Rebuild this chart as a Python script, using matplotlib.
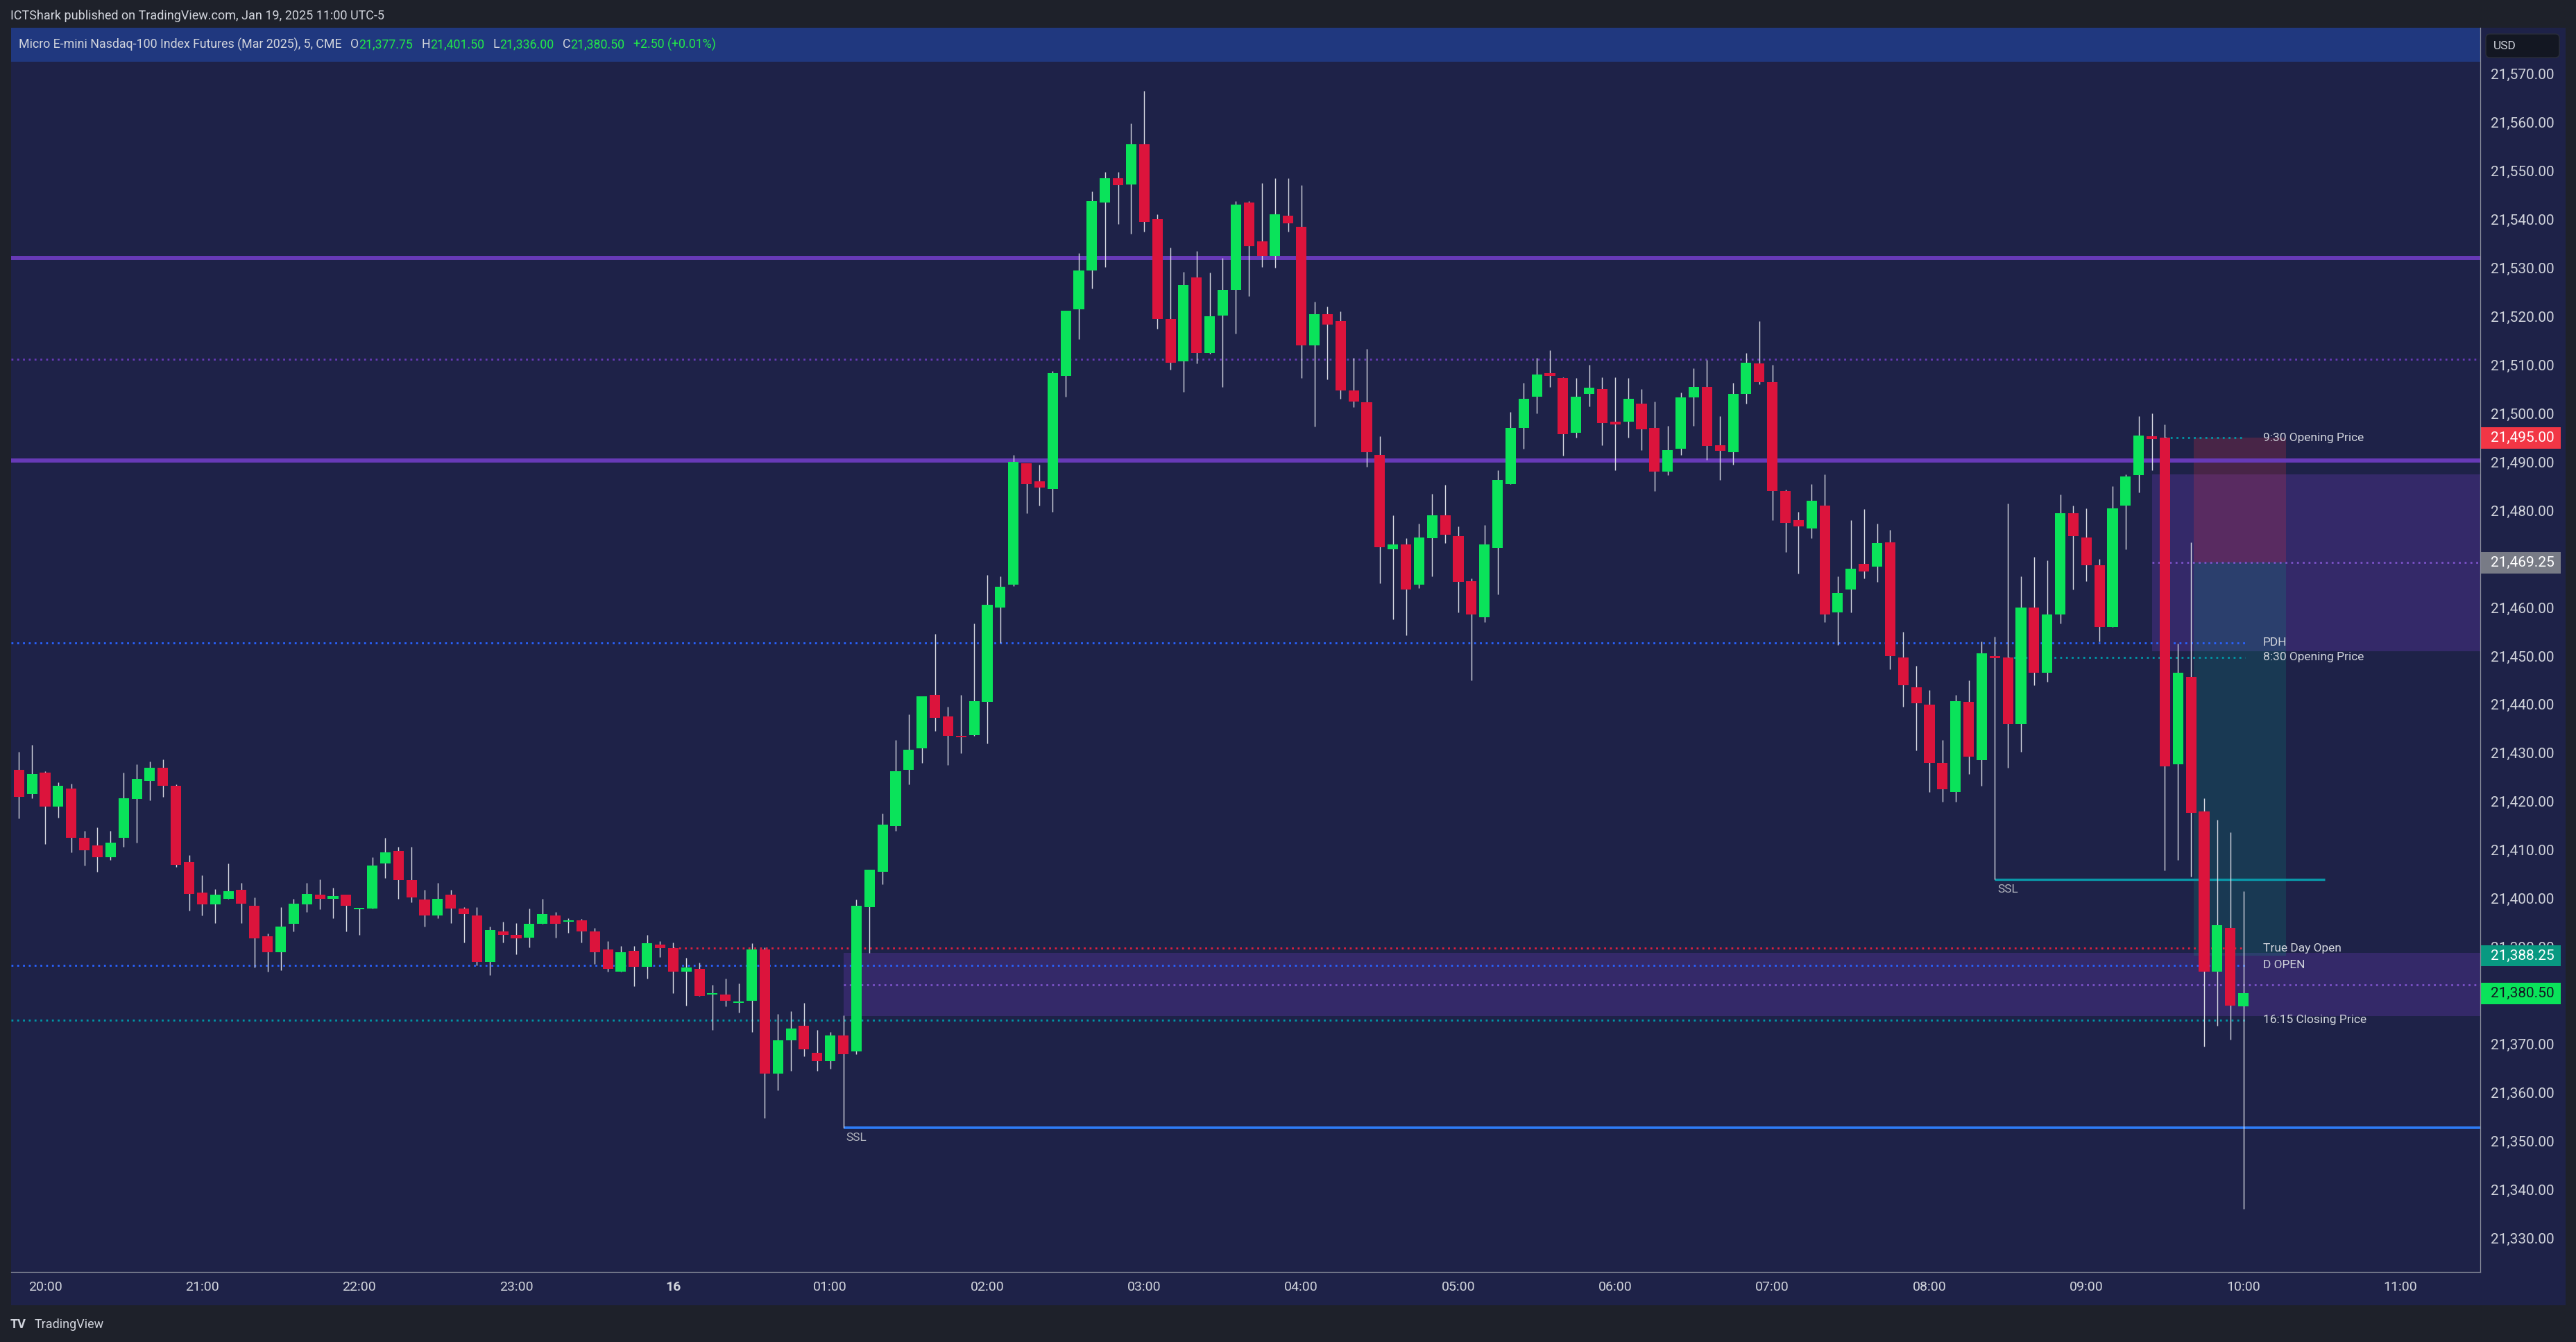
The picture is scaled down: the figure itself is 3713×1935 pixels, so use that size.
import numpy as np
import pandas as pd
import matplotlib
matplotlib.use('Agg')
import matplotlib.pyplot as plt
from matplotlib.patches import Rectangle, FancyBboxPatch

plt.rcParams['font.family'] = ['Roboto', 'DejaVu Sans']

# Candle data: MNQ 5-minute bars, 19:50 -> 10:00
start_time = '2025-01-15 19:50'
axis_end_time = '2025-01-16 11:00'

opens = [
    21426.5, 21421.5, 21426.0, 21419.0, 21422.75, 21412.5, 21411.0, 21408.5, 21412.5, 21420.5,
    21424.25, 21427.0, 21423.25, 21407.5, 21401.25, 21398.75, 21400.0, 21401.75, 21398.5, 21392.25,
    21389.0, 21394.75, 21398.75, 21400.75, 21400.0, 21400.75, 21397.75, 21398.0, 21407.25, 21409.75,
    21403.75, 21399.75, 21396.5, 21400.75, 21398.0, 21396.5, 21387.0, 21393.25, 21392.5, 21392.0,
    21394.75, 21396.5, 21395.25, 21395.5, 21393.25, 21389.5, 21385.0, 21389.25, 21386.0, 21390.5,
    21389.75, 21385.0, 21385.5, 21380.25, 21380.25, 21378.5, 21379.0, 21389.5, 21364.0, 21370.75,
    21373.75, 21368.25, 21366.5, 21371.75, 21368.5, 21398.25, 21405.5, 21415.0, 21426.5, 21431.0,
    21442.0, 21437.5, 21433.5, 21433.75, 21440.5, 21460.0, 21464.75, 21489.75, 21486.0, 21484.5,
    21507.75, 21521.5, 21529.5, 21543.5, 21548.5, 21547.25, 21555.5, 21540.0, 21519.5, 21510.75,
    21528.0, 21512.5, 21520.25, 21525.5, 21543.5, 21535.5, 21532.5, 21540.75, 21538.5, 21514.0,
    21520.5, 21519.0, 21504.75, 21502.25, 21491.5, 21472.0, 21473.0, 21464.75, 21474.25, 21479.0,
    21474.75, 21465.5, 21458.0, 21472.25, 21485.5, 21497.0, 21503.5, 21508.25, 21507.25, 21496.0,
    21504.0, 21505.0, 21498.25, 21498.25, 21502.0, 21497.0, 21488.0, 21492.75, 21503.25, 21505.5,
    21493.5, 21492.0, 21504.0, 21510.25, 21506.5, 21484.0, 21478.0, 21476.25, 21481.0, 21459.0,
    21463.75, 21469.0, 21468.5, 21473.5, 21449.75, 21443.5, 21440.0, 21428.0, 21422.0, 21440.5,
    21428.5, 21450.0, 21449.75, 21436.0, 21460.0, 21446.5, 21458.5, 21479.5, 21474.5, 21468.75,
    21456.0, 21481.0, 21487.25, 21495.25, 21495.0, 21427.75, 21445.75, 21418.0, 21385.0, 21394.0,
    21377.75,
]
highs = [
    21430.25, 21431.75, 21426.25, 21424.0, 21423.75, 21414.0, 21414.75, 21414.0, 21426.0, 21427.75,
    21428.25, 21428.75, 21423.5, 21409.0, 21404.75, 21402.0, 21407.25, 21403.25, 21400.25, 21392.75,
    21398.25, 21400.0, 21403.25, 21404.0, 21402.25, 21400.75, 21398.0, 21408.5, 21412.5, 21410.75,
    21410.75, 21401.75, 21403.25, 21401.75, 21398.25, 21398.25, 21394.25, 21395.25, 21395.0, 21398.0,
    21400.0, 21397.25, 21396.0, 21395.75, 21394.0, 21391.25, 21390.25, 21390.25, 21392.5, 21391.25,
    21391.0, 21387.75, 21386.75, 21382.25, 21383.5, 21382.5, 21390.75, 21390.0, 21376.25, 21376.75,
    21378.5, 21373.0, 21372.5, 21376.0, 21399.75, 21406.0, 21417.5, 21432.75, 21438.0, 21441.75,
    21454.5, 21439.5, 21442.0, 21456.75, 21466.75, 21466.5, 21491.5, 21489.75, 21489.5, 21508.75,
    21521.25, 21533.0, 21545.75, 21549.75, 21549.75, 21559.75, 21566.5, 21541.0, 21534.25, 21529.25,
    21533.5, 21529.0, 21532.0, 21543.75, 21543.75, 21547.5, 21548.5, 21548.5, 21547.0, 21523.0,
    21522.0, 21521.0, 21511.5, 21513.25, 21495.25, 21479.0, 21474.25, 21477.25, 21483.5, 21485.25,
    21476.75, 21466.0, 21477.0, 21488.25, 21500.25, 21506.25, 21511.5, 21513.0, 21507.5, 21507.25,
    21510.0, 21507.5, 21507.5, 21507.25, 21505.0, 21502.5, 21497.5, 21504.25, 21509.25, 21511.0,
    21499.5, 21506.25, 21512.5, 21519.0, 21510.0, 21484.25, 21479.75, 21485.5, 21487.5, 21466.5,
    21478.0, 21480.25, 21477.25, 21476.0, 21455.0, 21448.0, 21443.0, 21432.75, 21442.0, 21445.0,
    21453.0, 21454.0, 21481.5, 21466.5, 21470.5, 21469.75, 21483.25, 21481.0, 21480.5, 21470.0,
    21485.0, 21487.5, 21499.5, 21500.0, 21497.75, 21452.5, 21473.5, 21420.75, 21416.25, 21413.75,
    21401.5,
]
lows = [
    21416.5, 21420.75, 21411.25, 21416.75, 21409.5, 21406.75, 21405.5, 21408.0, 21410.75, 21411.5,
    21420.25, 21421.0, 21406.5, 21397.5, 21396.5, 21395.0, 21400.0, 21395.0, 21385.75, 21385.0,
    21385.25, 21393.25, 21397.25, 21397.75, 21396.0, 21393.25, 21392.5, 21398.0, 21404.25, 21400.0,
    21399.25, 21394.25, 21396.0, 21395.0, 21391.0, 21386.25, 21384.25, 21391.0, 21388.5, 21390.0,
    21394.75, 21392.0, 21393.0, 21391.0, 21386.5, 21385.0, 21385.0, 21382.0, 21383.5, 21388.0,
    21380.5, 21378.0, 21380.0, 21373.0, 21377.75, 21376.5, 21372.5, 21354.75, 21360.5, 21364.5,
    21367.5, 21364.5, 21365.0, 21352.75, 21368.0, 21388.75, 21403.0, 21414.0, 21423.5, 21428.0,
    21434.5, 21427.5, 21430.0, 21433.5, 21432.0, 21452.75, 21464.5, 21479.5, 21481.0, 21479.75,
    21503.5, 21515.25, 21525.75, 21530.25, 21539.0, 21537.0, 21537.5, 21517.5, 21509.0, 21504.5,
    21510.25, 21512.25, 21505.5, 21516.5, 21524.25, 21530.25, 21530.0, 21537.5, 21507.25, 21497.25,
    21507.0, 21503.0, 21501.25, 21489.0, 21465.0, 21457.5, 21454.25, 21464.0, 21466.5, 21473.25,
    21459.0, 21445.0, 21457.0, 21462.75, 21485.5, 21492.75, 21500.0, 21505.5, 21491.25, 21495.0,
    21501.5, 21493.5, 21488.25, 21495.0, 21492.5, 21484.0, 21487.25, 21491.5, 21497.5, 21490.5,
    21486.25, 21489.5, 21502.0, 21506.0, 21478.0, 21471.5, 21467.0, 21474.25, 21457.0, 21452.25,
    21459.0, 21466.0, 21465.25, 21447.25, 21439.5, 21430.5, 21422.0, 21420.0, 21420.0, 21425.75,
    21423.25, 21404.0, 21427.0, 21430.25, 21444.0, 21444.75, 21456.75, 21463.75, 21465.5, 21453.0,
    21456.0, 21472.0, 21483.75, 21488.25, 21405.75, 21408.0, 21404.5, 21369.5, 21373.75, 21371.0,
    21336.0,
]
closes = [
    21421.0, 21425.75, 21419.0, 21423.25, 21412.5, 21410.0, 21408.5, 21411.5, 21420.75, 21424.75,
    21427.0, 21423.25, 21407.0, 21401.0, 21398.75, 21400.75, 21401.5, 21399.0, 21391.75, 21389.0,
    21394.25, 21399.0, 21401.0, 21400.0, 21400.5, 21398.5, 21398.0, 21406.75, 21409.5, 21403.75,
    21400.25, 21396.5, 21400.0, 21398.0, 21396.75, 21387.0, 21393.5, 21392.5, 21391.75, 21394.75,
    21396.75, 21394.75, 21395.5, 21393.25, 21389.0, 21385.5, 21389.0, 21386.0, 21390.75, 21389.75,
    21385.0, 21385.75, 21380.0, 21380.5, 21379.0, 21378.75, 21389.5, 21364.0, 21370.75, 21373.25,
    21369.0, 21366.5, 21371.75, 21368.0, 21398.5, 21406.0, 21415.25, 21426.25, 21430.75, 21441.75,
    21437.25, 21433.5, 21433.25, 21440.75, 21460.5, 21464.25, 21490.0, 21485.5, 21484.75, 21508.25,
    21521.25, 21529.5, 21543.75, 21548.5, 21547.0, 21555.5, 21539.5, 21519.5, 21510.5, 21526.5,
    21512.5, 21520.0, 21525.5, 21543.0, 21534.5, 21532.5, 21541.0, 21539.25, 21514.0, 21520.5,
    21518.25, 21504.75, 21502.5, 21492.0, 21472.5, 21473.0, 21463.75, 21474.5, 21479.0, 21475.0,
    21465.25, 21458.5, 21473.0, 21486.25, 21497.0, 21503.0, 21508.0, 21507.75, 21495.75, 21503.5,
    21505.25, 21498.0, 21497.75, 21503.0, 21496.75, 21488.0, 21492.5, 21503.25, 21505.5, 21493.25,
    21492.25, 21504.0, 21510.5, 21506.5, 21484.0, 21477.5, 21476.75, 21482.0, 21458.5, 21463.0,
    21468.0, 21467.5, 21473.25, 21450.0, 21444.0, 21440.25, 21428.0, 21422.5, 21440.75, 21429.25,
    21450.5, 21449.5, 21436.0, 21460.0, 21446.5, 21458.5, 21479.5, 21474.75, 21468.75, 21456.0,
    21480.5, 21487.0, 21495.5, 21494.75, 21427.25, 21446.5, 21417.75, 21385.0, 21394.5, 21378.0,
    21380.5,
]

# Key levels drawn on the chart
swing_levels = [21532.0, 21490.25]           # solid purple lines
pdh = 21452.75
d_open = 21386.25
close_1615 = 21375.0
true_day_open = 21389.75
open_830 = 21449.75
open_930 = 21495.0
ssl_low = 21352.75
ssl_high = 21404.0
fvg_low = (21375.75, 21388.75)
fvg_high = (21451.0, 21487.5)
short_entry, short_stop, short_target = 21469.25, 21495.0, 21388.25

# Colours
BG = '#1e212a'
NAVY = '#1e2248'
UP = '#0ae35a'
DOWN = '#dc143c'
WICK = '#d8dae3'
TXT = '#d1d4dc'
PURPLE = '#673ab7'

W, H = 3713, 1935
n = len(opens)
times = pd.date_range(start_time, axis_end_time, freq='5min')


def pos(t):
    # bar index of a clock time on the 5 minute grid
    return times.get_loc(pd.Timestamp(t))


fig = plt.figure(figsize=(W / 100, H / 100), dpi=100, facecolor=BG)

# Frame backgrounds (pixel coordinates)
bg = fig.add_axes([0, 0, 1, 1], zorder=0)
bg.set_xlim(0, W)
bg.set_ylim(H, 0)
bg.axis('off')
bg.add_patch(Rectangle((16, 40), 3698 - 16, 1882 - 40, color=NAVY, lw=0))
bg.add_patch(Rectangle((16, 40), 3575 - 16, 49, color='#20387f', lw=0))

# Main price axes
ax = fig.add_axes([16 / W, (H - 1834) / H, (3575 - 16) / W, (1834 - 89) / H], zorder=1)
ax.set_facecolor(NAVY)
x0, x1 = -0.6, 188.1
ax.set_xlim(x0, x1)
ax.set_ylim(21323.05, 21572.5)
for s in ax.spines.values():
    s.set_visible(False)

# FVG boxes
for lo, hi, t in [(fvg_low[0], fvg_low[1], '2025-01-16 01:05'), (fvg_high[0], fvg_high[1], '2025-01-16 09:25')]:
    xs = pos(t)
    ax.add_patch(Rectangle((xs, lo), x1 - xs, hi - lo, facecolor=PURPLE, alpha=0.3, lw=0, zorder=0.5))
    ax.hlines((lo + hi) / 2, xs, x1, color='#7b52c8', lw=2, linestyles=(0, (1, 2)), zorder=1)

# Short position tool
ps, pe = pos('2025-01-16 09:40') + 0.2, pos('2025-01-16 10:15') + 0.25
ax.add_patch(Rectangle((ps, short_entry), pe - ps, short_stop - short_entry,
                       facecolor='#f23645', alpha=0.2, lw=0, zorder=0.6))
ax.add_patch(Rectangle((ps, short_target), pe - ps, short_entry - short_target,
                       facecolor='#089981', alpha=0.2, lw=0, zorder=0.6))

# Horizontal levels
line_end = n - 1 + 0.1
for lv in swing_levels:
    ax.axhline(lv, color=PURPLE, lw=4.3, zorder=1.2)
ax.axhline(np.mean(swing_levels), color=PURPLE, lw=2, ls=(0, (1, 2)), zorder=1.1)
dot = (0, (1, 2))
ax.hlines(pdh, x0, line_end, color='#2962ff', lw=2, linestyles=dot, zorder=1.1)
ax.hlines(d_open, x0, line_end, color='#2962ff', lw=2, linestyles=dot, zorder=1.1)
ax.hlines(close_1615, x0, line_end, color='#0097a7', lw=2, linestyles=dot, zorder=1.1)
ax.hlines(true_day_open, pos('2025-01-16 00:00'), line_end, color='#e0203f', lw=2, linestyles=dot, zorder=1.1)
ax.hlines(open_830, pos('2025-01-16 08:30'), line_end, color='#0097a7', lw=2, linestyles=dot, zorder=1.1)
ax.hlines(open_930, pos('2025-01-16 09:30'), line_end, color='#0097a7', lw=2, linestyles=dot, zorder=1.1)

# Sell-side liquidity lines
ax.hlines(ssl_low, pos('2025-01-16 01:05'), x1, color='#2e7cf6', lw=2.6, zorder=1.2)
ax.hlines(ssl_high, pos('2025-01-16 08:25'), pos('2025-01-16 10:30') + 0.2, color='#0a97a8', lw=2.4, zorder=1.2)
for lv, t in [(ssl_low, '2025-01-16 01:05'), (ssl_high, '2025-01-16 08:25')]:
    ax.annotate('SSL', xy=(pos(t), lv), xytext=(3, -5), textcoords='offset points',
                va='top', ha='left', color='#b2b5be', fontsize=12.5, zorder=5)

# Candles
x = np.arange(n)
o, h, l, c = (np.array(v) for v in (opens, highs, lows, closes))
colors = np.where(c >= o, UP, DOWN)
ax.vlines(x, l, h, color=WICK, lw=1.0, zorder=3)
ax.bar(x, np.maximum(np.abs(c - o), 0.3), 0.8, bottom=np.minimum(o, c), color=colors, lw=0, zorder=4)

# Level labels right of the last bar
lx = n + 0.5
for lv, s in [(open_930, '9:30 Opening Price'), (pdh, 'PDH'), (open_830, '8:30 Opening Price'),
              (true_day_open, 'True Day Open'), (d_open, 'D OPEN'), (close_1615, '16:15 Closing Price')]:
    ax.text(lx, lv, s, color=TXT, fontsize=12.5, va='center', ha='left', zorder=5)

# Price scale
ax.yaxis.tick_right()
ax.set_yticks(np.arange(21330, 21571, 10))
ax.set_yticklabels(['{:,.2f}'.format(v) for v in np.arange(21330, 21571, 10)])
ax.tick_params(axis='y', length=0, pad=10.5, labelsize=15, labelcolor=TXT)

# Time scale
hour_idx = [i for i, t in enumerate(times) if t.minute == 0]
hour_lab = ['16' if times[i].hour == 0 else times[i].strftime('%H:%M') for i in hour_idx]
ax.set_xticks(hour_idx)
ax.set_xticklabels(hour_lab)
ax.tick_params(axis='x', length=0, pad=9, labelsize=14, labelcolor=TXT)
for tl in ax.get_xticklabels():
    if tl.get_text() == '16':
        tl.set_fontweight('bold')

# Price badges
axw = 3575 - 16
yt = ax.get_yaxis_transform()
for lv, face, tc in [(short_stop, '#f23645', 'white'), (short_entry, '#787b86', 'white'),
                     (short_target, '#089981', 'white'), (closes[-1], UP, '#131722')]:
    ax.add_patch(Rectangle((1.0, lv - 2.2), 116 / axw, 4.4, transform=yt, facecolor=face,
                           lw=0, clip_on=False, zorder=6))
    ax.text(1.0 + 15 / axw, lv, '{:,.2f}'.format(lv), transform=yt, color=tc, fontsize=15,
            va='center', ha='left', zorder=7)

# Overlay: separators, header and footer
fg = fig.add_axes([0, 0, 1, 1], zorder=2)
fg.set_xlim(0, W)
fg.set_ylim(H, 0)
fg.axis('off')
fg.plot([3575, 3575], [40, 1834], color='#8b8f9c', lw=0.9)
fg.plot([16, 3575], [1834, 1834], color='#8b8f9c', lw=0.9)
fg.add_patch(FancyBboxPatch((3583, 49), 106, 34, boxstyle='round,pad=0,rounding_size=6',
                            facecolor='#131722', edgecolor='#2a2e39', lw=1))
fg.text(3594, 66, 'USD', color=TXT, fontsize=12.5, va='center', ha='left')

fg.text(15, 23, 'ICTShark published on TradingView.com, Jan 19, 2025 11:00 UTC-5',
        color=TXT, fontsize=13, va='center', ha='left')

chg = closes[-1] - closes[-2]
parts = [('Micro E-mini Nasdaq-100 Index Futures (Mar 2025), 5, CME', TXT, 0),
         ('O', TXT, 9), ('{:,.2f}'.format(opens[-1]), '#22e84a', 0),
         ('H', TXT, 9), ('{:,.2f}'.format(highs[-1]), '#22e84a', 0),
         ('L', TXT, 9), ('{:,.2f}'.format(lows[-1]), '#22e84a', 0),
         ('C', TXT, 9), ('{:,.2f}'.format(closes[-1]), '#22e84a', 0),
         ('{:+.2f} ({:+.2f}%)'.format(chg, chg / closes[-2] * 100), '#22e84a', 9)]
prev = fg.text(27, 64, parts[0][0], color=parts[0][1], fontsize=12.8, va='center', ha='left')
for s, col, gap in parts[1:]:
    prev = fg.annotate(s, xy=(1, 0.5), xycoords=prev, xytext=(gap, 0), textcoords='offset points',
                       color=col, fontsize=12.8, va='center', ha='left')

fg.text(15, 1910, 'TV', color=TXT, fontsize=13, fontweight='bold', va='center', ha='left')
fg.text(50, 1910, 'TradingView', color=TXT, fontsize=13, va='center', ha='left')

fig.savefig('out.png', dpi=100, facecolor=BG)
